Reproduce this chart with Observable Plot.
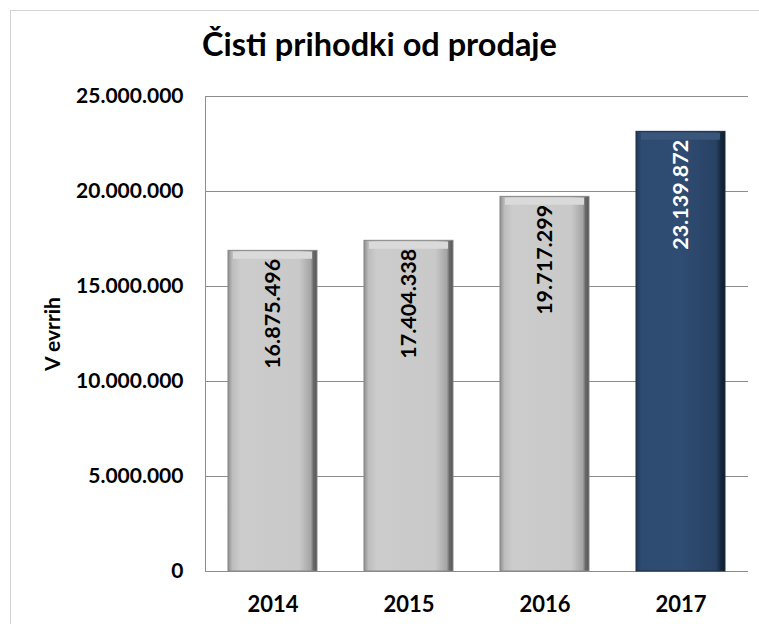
<!DOCTYPE html>
<html><head><meta charset="utf-8">
<script src="https://cdn.jsdelivr.net/npm/d3@7"></script>
<script src="https://cdn.jsdelivr.net/npm/@observablehq/plot@0.6"></script>
<style>
body{margin:0;background:#fff;font-family:Lato,sans-serif;}
#frame{position:absolute;left:10px;top:10px;width:800px;height:700px;border:1px solid #d4d4d4;box-sizing:border-box;z-index:5;pointer-events:none;}
#wrap{position:absolute;left:0;top:0;width:759px;}
#title{height:80px;box-sizing:border-box;padding-top:24px;text-align:center;font:bold 32.5px Lato,sans-serif;line-height:40px;color:#000;}
</style></head>
<body>
<div id="wrap"><div id="title">Čisti prihodki od prodaje</div><div id="chart"></div></div>
<div id="frame"></div>
<script>
const years = ["2014", "2015", "2016", "2017"];
const values = [16875496, 17404338, 19717299, 23139872];
const yTicks = [0, 5000000, 10000000, 15000000, 20000000, 25000000];
const highlightYear = "2017";
const yLabel = "V evrrih";

const data = years.map((y, i) => ({year: y, value: values[i], hi: y === highlightYear}));
const fmt = d3.formatLocale({thousands: ".", grouping: [3], decimal: ",", currency: ["", ""]}).format(",d");

function defs() {
  const d = d3.create("svg:defs");
  const lg = d.append("linearGradient").attr("id", "gLight").attr("x1", 0).attr("x2", 1).attr("y1", 0).attr("y2", 0);
  [[0, "#8e8e8e"], [0.05, "#bdbdbd"], [0.14, "#cccccc"], [0.8, "#c9c9c9"], [0.93, "#a5a5a5"], [0.96, "#6a6a6a"], [1, "#555"]]
    .forEach(([o, c]) => lg.append("stop").attr("offset", o).attr("stop-color", c));
  const dg = d.append("linearGradient").attr("id", "gDark").attr("x1", 0).attr("x2", 1).attr("y1", 0).attr("y2", 0);
  [[0, "#223a5a"], [0.06, "#2d4a70"], [0.5, "#2f4c72"], [0.9, "#284264"], [0.96, "#15253b"], [1, "#0f1b2c"]]
    .forEach(([o, c]) => dg.append("stop").attr("offset", o).attr("stop-color", c));
  return d.node();
}

const chart = Plot.plot({
  width: 759, height: 544,
  marginTop: 16, marginBottom: 53, marginLeft: 205, marginRight: 11,
  style: {fontFamily: "Lato, sans-serif", fontWeight: "bold", fontSize: "21px", color: "#000", background: "#fff", overflow: "visible"},
  x: {domain: years, paddingInner: 0.347, paddingOuter: 0.16, label: null},
  y: {domain: [0, 25000000], label: null},
  marks: [
    defs,
    Plot.gridY(yTicks, {stroke: "#8c8c8c", strokeOpacity: 1}),
    Plot.frame({anchor: "left", stroke: "#8c8c8c"}),
    Plot.ruleY([0], {stroke: "#8c8c8c"}),
    Plot.barY(data.filter(d => !d.hi), {x: "year", y: "value", fill: "url(#gLight)", stroke: "#858585", strokeWidth: 1}),
    Plot.barY(data.filter(d => d.hi), {x: "year", y: "value", fill: "url(#gDark)", stroke: "#1a2c44", strokeWidth: 1}),
    Plot.tickY(data.filter(d => !d.hi), {x: "year", y: "value", stroke: "#dadada", strokeWidth: 7, dy: 4.5, inset: 5}),
    Plot.tickY(data.filter(d => d.hi), {x: "year", y: "value", stroke: "#3a567a", strokeWidth: 7, dy: 4.5, inset: 5}),
    Plot.text(data, {x: "year", y: "value", text: d => fmt(d.value), rotate: -90, textAnchor: "end", dy: 8,
      fill: d => d.hi ? "#ffffff" : "#000000", fontSize: 21.5, fontWeight: "bold"}),
    Plot.axisY(yTicks, {tickSize: 0, tickPadding: 22, tickFormat: fmt, fontSize: 21,
      label: yLabel, labelAnchor: "center", labelOffset: 160, labelArrow: "none", fontSize: 21}),
    Plot.axisX({tickSize: 0, tickPadding: 25, label: null, fontSize: 22})
  ]
});
document.getElementById("chart").appendChild(chart);
</script>
</body></html>
